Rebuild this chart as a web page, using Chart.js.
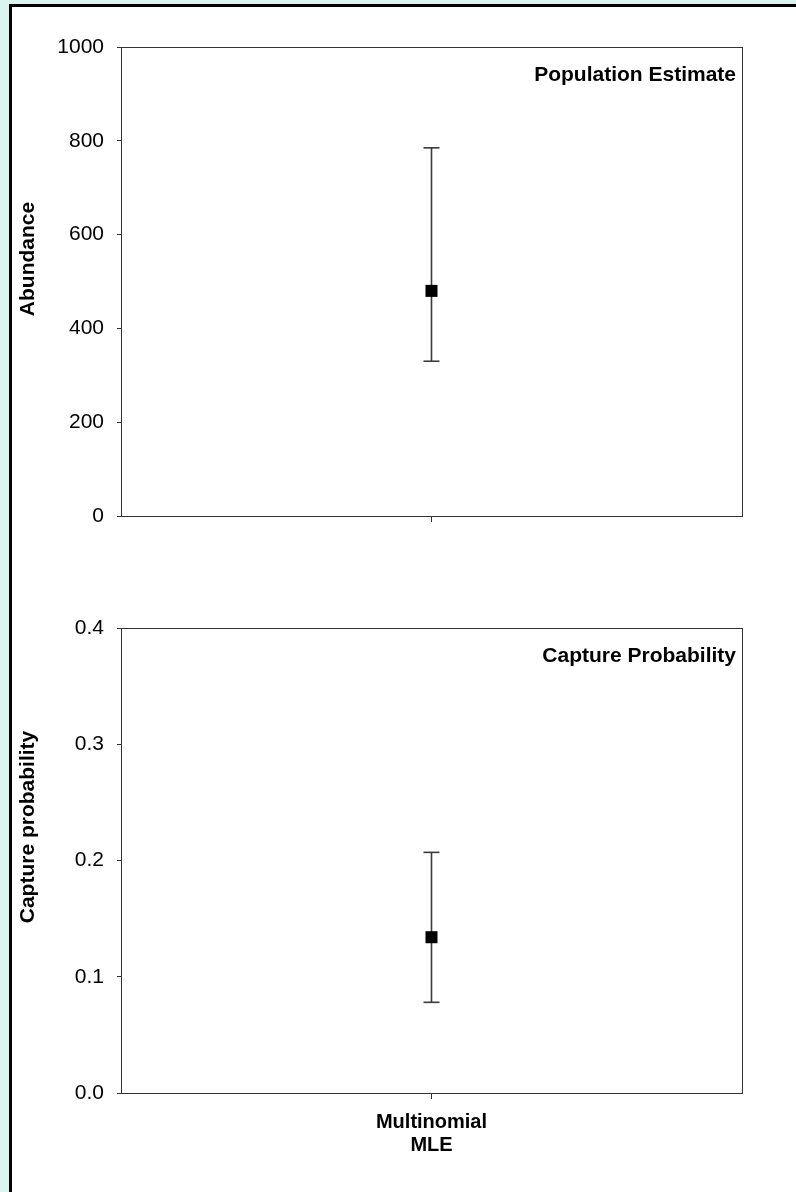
<!DOCTYPE html>
<html>
<head>
<meta charset="utf-8">
<script src="https://cdn.jsdelivr.net/npm/chart.js@4.4.0/dist/chart.umd.min.js"></script>
<style>
  html, body { margin: 0; padding: 0; }
  body { width: 796px; height: 1192px; background: #dcf4f0; position: relative; overflow: hidden; }
  #panel { position: absolute; left: 9px; top: 4px; width: 800px; height: 1200px; background: #fff;
           border-left: 3px solid #000; border-top: 3px solid #000; }
  canvas { position: absolute; left: 0; }
  #popChart { top: 0; }
  #capChart { top: 580px; }
</style>
</head>
<body>
<div id="panel"></div>
<canvas id="popChart" width="796" height="580"></canvas>
<canvas id="capChart" width="796" height="612"></canvas>
<script>
// data
const methods = [['Multinomial', 'MLE']];

const abundance = [480];
const abundanceLow = [330];
const abundanceHigh = [785];
const abundanceTicks = [0, 200, 400, 600, 800, 1000];

const capture = [0.134];
const captureLow = [0.078];
const captureHigh = [0.207];
const captureTicks = [0.0, 0.1, 0.2, 0.3, 0.4];

const FONT = '"Liberation Sans", Arial, sans-serif';
const LINE = '#333';

// box round the plot area + the title in the top right corner + rotated y title
const framePlugin = {
  id: 'frame',
  afterDraw(chart, args, opts) {
    const {ctx, chartArea: a} = chart;
    ctx.save();
    ctx.strokeStyle = LINE;
    ctx.lineWidth = 1;
    ctx.strokeRect(a.left + 0.5, a.top + 0.5, a.right - a.left, a.bottom - a.top);

    ctx.fillStyle = '#000';
    ctx.font = 'bold 21px ' + FONT;
    ctx.textAlign = 'right';
    ctx.textBaseline = 'middle';
    ctx.fillText(opts.title, a.right - 6, a.top + 28);

    ctx.font = 'bold 21px ' + FONT;
    ctx.textAlign = 'center';
    ctx.translate(28, opts.yTitleAt);
    ctx.rotate(-Math.PI / 2);
    ctx.fillText(opts.yTitle, 0, 0);
    ctx.restore();
  }
};

function makeDatasets(est, lo, hi) {
  const sets = [];
  est.forEach((v, i) => {
    sets.push({
      data: [{x: i, y: v}],
      pointStyle: 'rect',
      pointRadius: 8.5,
      pointBackgroundColor: '#000',
      pointBorderColor: '#000',
      pointBorderWidth: 0,
      showLine: false
    });
    sets.push({
      data: [{x: i, y: lo[i]}, {x: i, y: hi[i]}],
      showLine: true,
      borderColor: '#3a3a3a',
      borderWidth: 1.6,
      pointStyle: 'line',
      pointRadius: 8,
      pointBorderColor: '#3a3a3a',
      pointBorderWidth: 1.6
    });
  });
  return sets;
}

function makeChart(id, cfg) {
  return new Chart(document.getElementById(id), {
    type: 'scatter',
    data: { datasets: makeDatasets(cfg.est, cfg.lo, cfg.hi) },
    options: {
      responsive: false,
      animation: false,
      layout: { padding: { top: cfg.padTop, right: 54, left: 0, bottom: 0 } },
      plugins: {
        legend: { display: false },
        tooltip: { enabled: false },
        frame: { title: cfg.title, yTitle: cfg.yTitle, yTitleAt: cfg.yTitleAt }
      },
      scales: {
        x: {
          type: 'linear',
          min: -1,
          max: methods.length,
          afterBuildTicks: (axis) => { axis.ticks = methods.map((m, i) => ({ value: i })); },
          afterFit: (scale) => { scale.height = cfg.xHeight; },
          border: { display: true, color: LINE, width: 1 },
          grid: { display: true, drawOnChartArea: false, drawTicks: true, tickLength: 6, color: LINE },
          ticks: {
            display: cfg.showX,
            color: '#000',
            padding: 12,
            maxRotation: 0,
            font: { family: FONT, size: 20, weight: 'bold', lineHeight: 1.15 },
            callback: (v) => methods[v] || ''
          }
        },
        y: {
          type: 'linear',
          min: cfg.ticks[0],
          max: cfg.ticks[cfg.ticks.length - 1],
          afterBuildTicks: (axis) => { axis.ticks = cfg.ticks.map(v => ({ value: v })); },
          afterFit: (scale) => { scale.width = 121; },
          border: { display: true, color: LINE, width: 1 },
          grid: { display: true, drawOnChartArea: false, drawTicks: true, tickLength: 4, color: LINE },
          ticks: {
            color: '#000',
            padding: 13,
            font: { family: FONT, size: 21 },
            callback: cfg.fmt
          }
        }
      }
    },
    plugins: [framePlugin]
  });
}

makeChart('popChart', {
  est: abundance, lo: abundanceLow, hi: abundanceHigh, ticks: abundanceTicks,
  padTop: 47, xHeight: 64, showX: false,
  title: 'Population Estimate', yTitle: 'Abundance', yTitleAt: 259,
  fmt: (v) => String(v)
});

makeChart('capChart', {
  est: capture, lo: captureLow, hi: captureHigh, ticks: captureTicks,
  padTop: 48, xHeight: 99, showX: true,
  title: 'Capture Probability', yTitle: 'Capture probability', yTitleAt: 827 - 580,
  fmt: (v) => v.toFixed(1)
});
</script>
</body>
</html>
